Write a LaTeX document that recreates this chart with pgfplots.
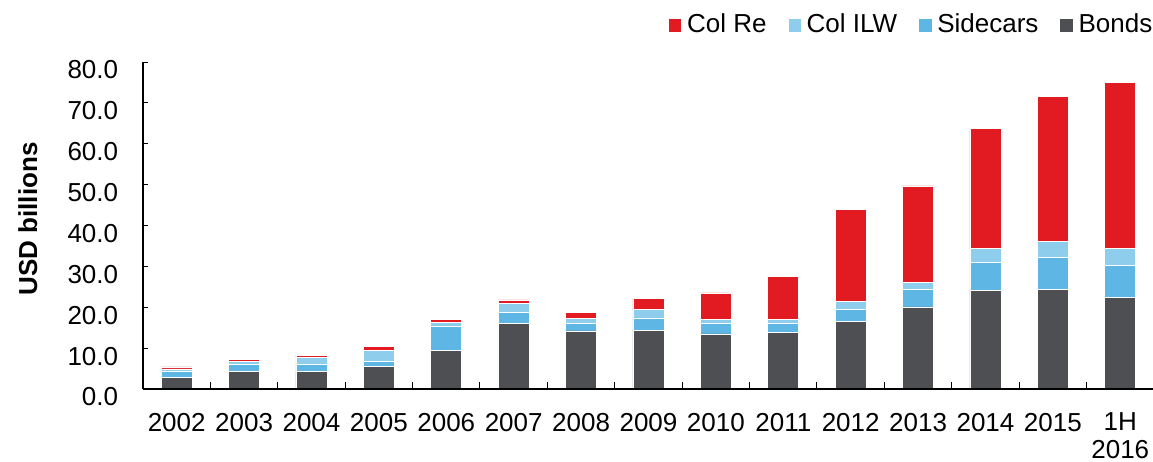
\documentclass[border=0pt]{standalone}
\usepackage{pgfplots}
\pgfplotsset{compat=1.18}
\usepackage{pgfplotstable}
\usepackage{fontspec}
\setmainfont{Liberation Sans}
\definecolor{colre}{HTML}{E21B23}
\definecolor{colilw}{HTML}{8FCDEC}
\definecolor{sidecars}{HTML}{5DB6E4}
\definecolor{bonds}{HTML}{4E4F53}
\pgfplotstableread{
x Bonds Sidecars ILW ColRe
0  2.8 1.45 0.65 0.5
1  4.3 1.8 0.75 0.45
2  4.3 1.8 1.7 0.5
3  5.5 1.35 2.55 1.1
4  9.4 6.05 0.9 0.65
5  16.0 2.8 2.2 0.8
6  14.2 1.9 1.2 1.5
7  14.4 3.0 2.0 2.8
8  13.5 2.6 1.0 6.4
9  13.8 2.2 1.0 10.5
10 16.5 2.9 2.0 22.6
11 20.1 4.2 1.8 23.6
12 24.1 6.8 3.4 29.5
13 24.3 7.9 4.0 35.3
14 22.5 7.8 4.1 40.7
}\data
\begin{document}
\fontsize{26bp}{28bp}\selectfont
\begin{tikzpicture}
\useasboundingbox (-143bp,-73bp) rectangle (1010bp,389bp);
\begin{axis}[
  scale only axis,
  width=1011bp, height=327bp,
  ybar stacked, bar width=31bp,
  xmin=-0.5, xmax=14.5, ymin=0, ymax=80,
  axis x line=bottom, axis y line=left,
  axis on top,
  axis line style={line width=1.2bp, -},
  tick align=inside,
  tick style={black, line width=1bp},
  xtick={0,...,14},
  xticklabels={2002,2003,2004,2005,2006,2007,2008,2009,2010,2011,2012,2013,2014,2015,{1H\\2016}},
  x tick style={draw=none},
  minor xtick={0.5,1.5,...,13.5},
  minor x tick style={draw=black, line width=1bp},
  minor tick length=7bp,
  major tick length=5bp,
  xticklabel style={align=center, font=\fontsize{26bp}{28bp}\selectfont, yshift=-15bp},
  ytick={0,10,...,80},
  yticklabel style={font=\fontsize{26bp}{28bp}\selectfont, xshift=-16bp, yshift=-8bp},
  /pgf/number format/assume math mode=true,
  /pgf/number format/.cd, fixed, fixed zerofill, precision=1, /pgfplots/.cd,
  ylabel={\bfseries USD billions},
  every axis y label/.style={at={(axis description cs:-0.114,0.52)}, rotate=90, anchor=center, font=\fontsize{26bp}{28bp}\selectfont},
  reverse legend,
  legend columns=4,
  legend image code/.code={\fill[#1] (0bp,-6.75bp) rectangle (13.5bp,6.75bp);},
  legend style={draw=none, fill=none, at={(axis description cs:0.9985,1.112)}, anchor=east,
    font=\fontsize{26bp}{28bp}\selectfont, inner sep=0pt,
    nodes={inner sep=0bp},
    /tikz/every odd column/.append style={column sep=5bp},
    /tikz/every even column/.append style={column sep=21bp}},
]
\addplot[fill=bonds, draw=white, line width=0.6bp] table[x=x, y=Bonds] {\data};
\addlegendentry{Bonds}
\addplot[fill=sidecars, draw=white, line width=0.6bp] table[x=x, y=Sidecars] {\data};
\addlegendentry{Sidecars}
\addplot[fill=colilw, draw=white, line width=0.6bp] table[x=x, y=ILW] {\data};
\addlegendentry{Col ILW}
\addplot[fill=colre, draw=white, line width=0.6bp] table[x=x, y=ColRe] {\data};
\addlegendentry{Col Re}
\end{axis}
\end{tikzpicture}
\end{document}
